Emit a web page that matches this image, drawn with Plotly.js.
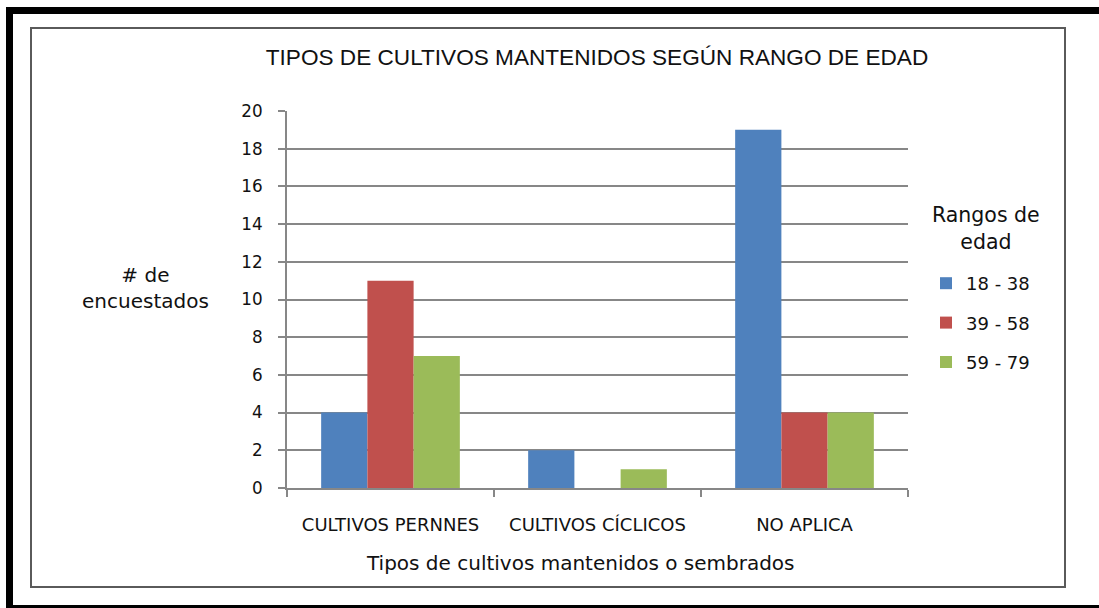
<!DOCTYPE html>
<html>
<head>
<meta charset="utf-8">
<script src="https://cdn.plot.ly/plotly-3.0.1.min.js"></script>
<style>
html,body{margin:0;padding:0;background:#fff;}
#chart{width:1099px;height:608px;}
</style>
</head>
<body>
<div id="chart"></div>
<script>
// ---- data ----
var categories = ["CULTIVOS PERNNES", "CULTIVOS CÍCLICOS", "NO APLICA"];
var seriesNames = ["18 - 38", "39 - 58", "59 - 79"];
var values18_38 = [4, 2, 19];
var values39_58 = [11, 0, 4];
var values59_79 = [7, 1, 4];
var yTicks = [0, 2, 4, 6, 8, 10, 12, 14, 16, 18, 20];
var chartTitle = "TIPOS DE CULTIVOS MANTENIDOS SEGÚN RANGO DE EDAD";
var xTitle = "Tipos de cultivos mantenidos o sembrados";
var yTitle = "# de<br>encuestados";
var legendTitle = "Rangos de<br>edad";

// ---- layout geometry ----
var W = 1099, H = 608;
var L = 287, R = 908, T = 111, B = 488;
function fx(px){ return (px - L) / (R - L); }
function fy(py){ return (B - py) / (B - T); }

var colors = ["#4F81BD", "#C0504D", "#9BBB59"];
var allValues = [values18_38, values39_58, values59_79];
var textColor = "#111111";
var fontFam = "DejaVu Sans, Verdana, sans-serif";

var traces = allValues.map(function(v, i){
  return {
    type: "bar",
    name: seriesNames[i],
    x: categories,
    y: v,
    marker: {color: colors[i], line: {width: 0}},
    legendgroup: "g" + i,
    hoverinfo: "x+y+name"
  };
});

var shapes = [
  // outer black frame (top, left, bottom)
  {type:"rect", xref:"paper", yref:"paper", x0:fx(6), x1:fx(1099), y0:fy(7), y1:fy(14), fillcolor:"#000", line:{width:0}, layer:"below"},
  {type:"rect", xref:"paper", yref:"paper", x0:fx(6), x1:fx(13), y0:fy(7), y1:fy(608), fillcolor:"#000", line:{width:0}, layer:"below"},
  {type:"rect", xref:"paper", yref:"paper", x0:fx(6), x1:fx(1099), y0:fy(605), y1:fy(608), fillcolor:"#000", line:{width:0}, layer:"below"},
  // inner grey frame
  {type:"rect", xref:"paper", yref:"paper", x0:fx(31), x1:fx(1065), y0:fy(28), y1:fy(587), fillcolor:"rgba(0,0,0,0)", line:{color:"#5a5a5a", width:2}, layer:"below"}
];

var layout = {
  width: W, height: H,
  margin: {l: L, r: W - R, t: T, b: H - B, pad: 0},
  paper_bgcolor: "#fff",
  plot_bgcolor: "#fff",
  title: {
    text: chartTitle,
    font: {family: "Liberation Sans, Arial, sans-serif", size: 22.6, color: textColor},
    x: 597 / W, xanchor: "center",
    y: 1 - 57 / H, yanchor: "middle"
  },
  barmode: "group",
  bargap: 0.33,
  bargroupgap: 0,
  xaxis: {
    type: "category",
    showline: true, linecolor: "#878787", linewidth: 2,
    ticks: "outside", tickson: "boundaries", ticklen: 7, tickwidth: 2, tickcolor: "#878787",
    tickfont: {family: fontFam, size: 18, color: textColor},
    ticklabelstandoff: 19,
    showgrid: false, zeroline: false,
    fixedrange: true
  },
  yaxis: {
    range: [0, 20],
    tickvals: yTicks,
    ticktext: yTicks.map(String),
    showline: true, linecolor: "#878787", linewidth: 2,
    ticks: "outside", ticklen: 7, tickwidth: 2, tickcolor: "#878787",
    tickfont: {family: fontFam, size: 16.8, color: textColor},
    ticklabelstandoff: 12,
    showgrid: true, gridcolor: "#878787", gridwidth: 1.5,
    zeroline: false,
    fixedrange: true
  },
  showlegend: true,
  legend: {
    x: fx(926), xanchor: "left",
    y: fy(265), yanchor: "top",
    font: {family: fontFam, size: 18, color: textColor},
    traceorder: "grouped",
    tracegroupgap: 13,
    itemwidth: 30,
    bgcolor: "rgba(0,0,0,0)",
    borderwidth: 0
  },
  shapes: shapes,
  annotations: [
    {text: xTitle, xref: "paper", yref: "paper", x: fx(580), y: fy(563), xanchor: "center", yanchor: "middle", showarrow: false,
     font: {family: fontFam, size: 20, color: textColor}},
    {text: yTitle, xref: "paper", yref: "paper", x: fx(145), y: fy(288), xanchor: "center", yanchor: "middle", showarrow: false,
     align: "center", font: {family: fontFam, size: 20, color: textColor}},
    {text: legendTitle, xref: "paper", yref: "paper", x: fx(986), y: fy(228), xanchor: "center", yanchor: "middle", showarrow: false,
     align: "center", font: {family: fontFam, size: 20.5, color: textColor}}
  ]
};

Plotly.newPlot("chart", traces, layout, {displayModeBar: false});
</script>
</body>
</html>
